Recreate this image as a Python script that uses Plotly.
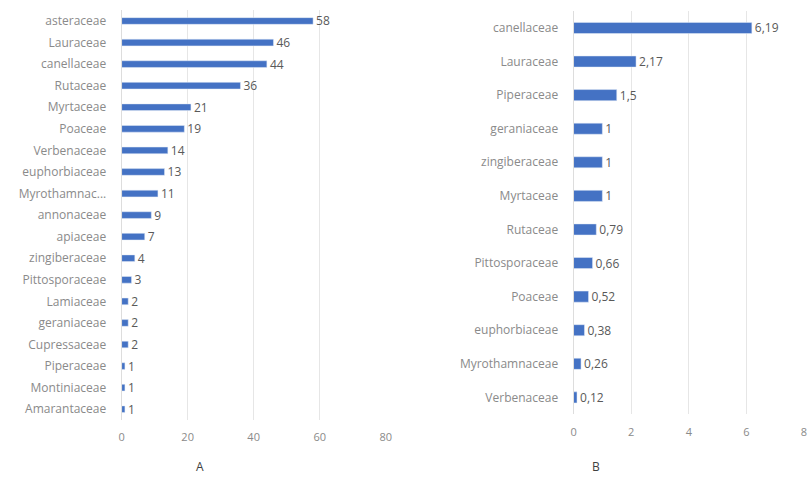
import plotly.graph_objects as go

# Panel A
cats_a = ["asteraceae", "Lauraceae", "canellaceae", "Rutaceae", "Myrtaceae", "Poaceae",
          "Verbenaceae", "euphorbiaceae", "Myrothamnac...", "annonaceae", "apiaceae",
          "zingiberaceae", "Pittosporaceae", "Lamiaceae", "geraniaceae", "Cupressaceae",
          "Piperaceae", "Montiniaceae", "Amarantaceae"]
vals_a = [58, 46, 44, 36, 21, 19, 14, 13, 11, 9, 7, 4, 3, 2, 2, 2, 1, 1, 1]
ticks_a = [0, 20, 40, 60, 80]

# Panel B
cats_b = ["canellaceae", "Lauraceae", "Piperaceae", "geraniaceae", "zingiberaceae",
          "Myrtaceae", "Rutaceae", "Pittosporaceae", "Poaceae", "euphorbiaceae",
          "Myrothamnaceae", "Verbenaceae"]
vals_b = [6.19, 2.17, 1.5, 1, 1, 1, 0.79, 0.66, 0.52, 0.38, 0.26, 0.12]
ticks_b = [0, 2, 4, 6, 8]

BLUE = "#4472C4"
FONT = "Open Sans"
LBL = "#8A8A8A"
VAL = "#595959"

fig = go.Figure()
fig.add_trace(go.Bar(
    x=vals_a, y=cats_a, orientation="h", marker_color=BLUE, width=0.31,
    text=[str(v) for v in vals_a], textposition="outside", cliponaxis=False,
    constraintext="none",
    textfont=dict(color=VAL, size=12, family=FONT),
    xaxis="x", yaxis="y"))
fig.add_trace(go.Bar(
    x=vals_b, y=cats_b, orientation="h", marker_color=BLUE, width=0.33,
    text=[f"{v:g}".replace(".", ",") for v in vals_b], textposition="outside", cliponaxis=False,
    constraintext="none",
    textfont=dict(color=VAL, size=12, family=FONT),
    xaxis="x2", yaxis="y2"))

axis_common = dict(showgrid=True, gridcolor="#E6E6E6", gridwidth=1, zeroline=False,
                   tickfont=dict(color=LBL, size=11, family=FONT), ticks="")
yaxis_common = dict(showgrid=False, showline=True, linecolor="#DDDDDD", ticks="",
                    ticklabelstandoff=12, tickfont=dict(color=LBL, size=12, family=FONT))

fig.update_layout(
    width=810, height=485, margin=dict(l=0, r=0, t=0, b=0),
    paper_bgcolor="white", plot_bgcolor="white", showlegend=False,
    font=dict(family=FONT),
    xaxis=dict(domain=[0.1481, 0.4778], range=[0, 80], tickvals=ticks_a,
               anchor="y", ticklabelstandoff=9, **axis_common),
    yaxis=dict(domain=[0.134, 0.979], categoryorder="array", categoryarray=cats_a[::-1],
               range=[-0.5, 18.5], anchor="x", **yaxis_common),
    xaxis2=dict(domain=[0.7123, 1.0], range=[0, 8], tickvals=ticks_b,
                anchor="y2", ticklabelstandoff=10, **axis_common),
    yaxis2=dict(domain=[0.146, 0.977], categoryorder="array", categoryarray=cats_b[::-1],
                range=[-0.5, 11.5], anchor="x2", **yaxis_common),
    annotations=[
        dict(text="A", x=193 / 810, y=1 - 477 / 485, xref="paper", yref="paper",
             showarrow=False, font=dict(color="#404040", size=12, family=FONT)),
        dict(text="B", x=606 / 810, y=1 - 477 / 485, xref="paper", yref="paper",
             showarrow=False, font=dict(color="#404040", size=12, family=FONT)),
    ],
)

fig.write_html("out.html")
